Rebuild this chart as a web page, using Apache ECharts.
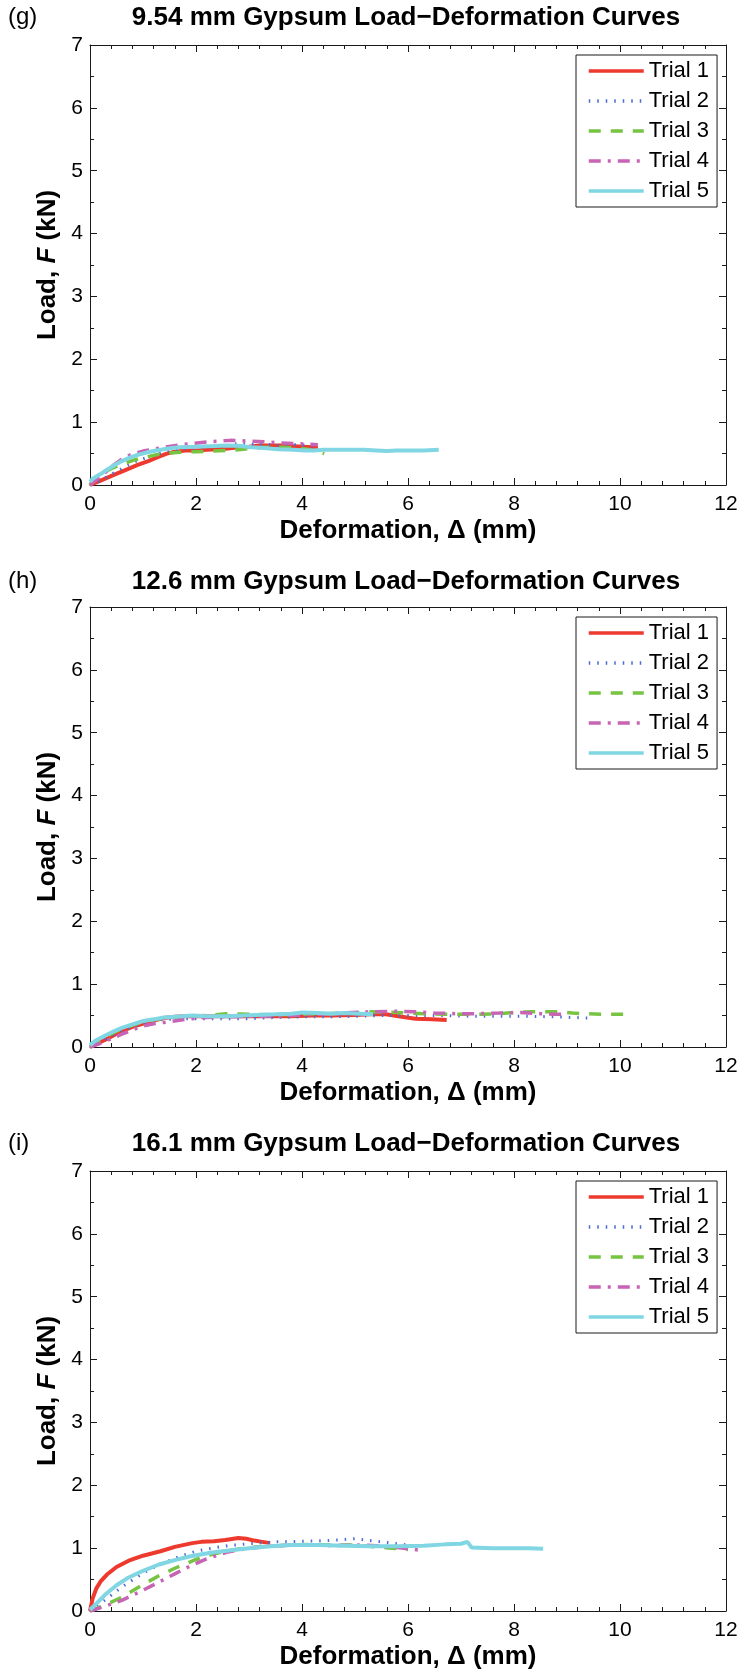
<!DOCTYPE html>
<html>
<head>
<meta charset="utf-8">
<script src="https://cdn.jsdelivr.net/npm/echarts@6/dist/echarts.min.js"></script>
<style>
html,body{margin:0;padding:0;background:#fff;}
#chart{width:741px;height:1673px;}
</style>
</head>
<body>
<div id="chart"></div>
<script>
// ---------- DATA ----------
const panelTags = ['(g)', '(h)', '(i)'];
const panelTitles = [
  '9.54 mm Gypsum Load\u2212Deformation Curves',
  '12.6 mm Gypsum Load\u2212Deformation Curves',
  '16.1 mm Gypsum Load\u2212Deformation Curves'
];
const trialNames = ['Trial 1', 'Trial 2', 'Trial 3', 'Trial 4', 'Trial 5'];
const xTicks = [0, 2, 4, 6, 8, 10, 12];
const yTicks = [0, 1, 2, 3, 4, 5, 6, 7];

// Panel (g) 9.54 mm  [deformation mm, load kN]
const g_t1 = [[0,0],[0.2,0.07],[0.45,0.16],[0.7,0.25],[0.9,0.32],[1.1,0.38],[1.3,0.45],[1.45,0.50],[1.6,0.53],[1.8,0.55],[2.0,0.55],[2.2,0.56],[2.4,0.57],[2.6,0.58],[2.8,0.60],[3.0,0.61],[3.2,0.63],[3.4,0.63],[3.6,0.63],[3.8,0.62],[4.0,0.61],[4.2,0.60],[4.3,0.59]];
const g_t2 = [[0,0],[0.1,0.03],[0.2,0.07],[0.4,0.17],[0.64,0.28],[0.85,0.37],[1.08,0.44],[1.3,0.50],[1.5,0.55],[1.7,0.57],[2.0,0.59],[2.33,0.61],[2.6,0.63],[2.84,0.67],[3.0,0.65],[3.3,0.65],[3.53,0.63],[3.8,0.64],[3.97,0.64],[4.2,0.62]];
const g_t3 = [[0,0],[0.05,0.08],[0.2,0.17],[0.4,0.26],[0.6,0.33],[0.8,0.39],[1.08,0.45],[1.3,0.49],[1.5,0.51],[1.7,0.52],[2.0,0.53],[2.33,0.54],[2.65,0.55],[2.9,0.57],[3.28,0.60],[3.6,0.60],[3.9,0.59],[4.1,0.57],[4.3,0.53],[4.42,0.50]];
const g_t4 = [[0,0],[0.1,0.07],[0.25,0.17],[0.45,0.32],[0.6,0.41],[0.76,0.48],[1.0,0.54],[1.2,0.57],[1.39,0.60],[1.7,0.64],[2.02,0.67],[2.3,0.69],[2.65,0.71],[2.95,0.70],[3.28,0.69],[3.6,0.67],[3.9,0.66],[4.1,0.65],[4.3,0.64]];
const g_t5 = [[0,0.05],[0.05,0.1],[0.19,0.17],[0.3,0.23],[0.45,0.31],[0.6,0.38],[0.76,0.44],[0.9,0.48],[1.08,0.52],[1.25,0.55],[1.39,0.57],[1.55,0.59],[1.7,0.60],[2.0,0.61],[2.33,0.62],[2.6,0.63],[2.84,0.62],[3.05,0.60],[3.28,0.59],[3.55,0.57],[3.84,0.56],[4.05,0.55],[4.22,0.55],[4.4,0.56],[4.6,0.56],[4.9,0.56],[5.16,0.56],[5.4,0.55],[5.6,0.54],[5.79,0.55],[6.0,0.55],[6.3,0.55],[6.58,0.56]];

// Panel (h) 12.6 mm
const h_t1 = [[0,0],[0.15,0.06],[0.3,0.12],[0.59,0.25],[0.8,0.32],[0.99,0.37],[1.2,0.42],[1.39,0.46],[1.6,0.48],[1.78,0.49],[2.2,0.49],[2.6,0.49],[2.97,0.49],[3.4,0.49],[3.8,0.49],[4.2,0.50],[4.55,0.50],[5.0,0.51],[5.3,0.52],[5.58,0.52],[5.82,0.49],[6.14,0.45],[6.45,0.44],[6.73,0.43]];
const h_t2 = [[0,0],[0.2,0.08],[0.4,0.17],[0.59,0.26],[0.99,0.38],[1.39,0.44],[1.8,0.45],[2.2,0.45],[2.6,0.45],[2.97,0.45],[3.5,0.47],[4.0,0.48],[4.55,0.48],[5.0,0.49],[5.5,0.50],[6.14,0.50],[6.6,0.50],[7.2,0.49],[7.72,0.49],[8.2,0.49],[8.75,0.48],[9.1,0.47],[9.46,0.46]];
const h_t3 = [[0,0],[0.1,0.06],[0.3,0.17],[0.6,0.29],[0.99,0.40],[1.39,0.46],[1.8,0.49],[2.2,0.50],[2.57,0.53],[3.0,0.52],[3.5,0.51],[3.9,0.52],[4.4,0.53],[4.9,0.54],[5.34,0.56],[5.8,0.55],[6.3,0.53],[6.93,0.52],[7.3,0.52],[7.72,0.53],[8.0,0.55],[8.35,0.56],[8.83,0.56],[9.1,0.54],[9.3,0.53],[9.7,0.52],[10.13,0.52]];
const h_t4 = [[0,0],[0.2,0.06],[0.4,0.13],[0.59,0.20],[0.8,0.27],[0.99,0.33],[1.2,0.37],[1.39,0.39],[1.8,0.44],[2.18,0.47],[2.6,0.48],[3.0,0.49],[3.4,0.49],[3.76,0.50],[4.2,0.52],[4.55,0.53],[4.95,0.55],[5.34,0.56],[5.74,0.57],[6.14,0.56],[6.5,0.54],[6.93,0.53],[7.3,0.53],[7.72,0.54],[8.12,0.55],[8.5,0.53],[8.75,0.52],[8.95,0.52]];
const h_t5 = [[0,0.03],[0.1,0.1],[0.28,0.18],[0.45,0.25],[0.59,0.30],[0.8,0.36],[0.99,0.41],[1.2,0.44],[1.39,0.47],[1.6,0.48],[1.94,0.50],[2.2,0.49],[2.57,0.49],[2.9,0.50],[3.13,0.51],[3.5,0.52],[3.8,0.53],[4.0,0.55],[4.3,0.54],[4.55,0.53],[4.8,0.54],[5.1,0.53],[5.34,0.52]];

// Panel (i) 16.1 mm
const i_t1 = [[0,0],[0.05,0.2],[0.12,0.36],[0.2,0.47],[0.32,0.58],[0.5,0.70],[0.73,0.80],[1.0,0.88],[1.33,0.95],[1.6,1.02],[1.93,1.08],[2.1,1.10],[2.34,1.11],[2.55,1.13],[2.8,1.16],[2.95,1.15],[3.1,1.12],[3.25,1.10],[3.4,1.08]];
const i_t2 = [[0,0],[0.2,0.12],[0.4,0.25],[0.6,0.38],[0.85,0.52],[1.1,0.65],[1.4,0.77],[1.7,0.87],[2.0,0.95],[2.3,1.00],[2.6,1.04],[3.0,1.07],[3.5,1.10],[4.0,1.11],[4.5,1.12],[5.0,1.15],[5.2,1.13],[5.5,1.10],[5.8,1.07],[6.0,1.05]];
const i_t3 = [[0,0],[0.3,0.1],[0.6,0.22],[1.0,0.42],[1.3,0.56],[1.6,0.68],[2.0,0.82],[2.3,0.90],[2.6,0.96],[3.0,1.01],[3.4,1.03],[3.8,1.05],[4.2,1.06],[4.6,1.05],[5.0,1.05],[5.4,1.02],[5.7,1.00],[6.0,0.98]];
const i_t4 = [[0,0],[0.3,0.08],[0.6,0.17],[1.0,0.33],[1.3,0.46],[1.6,0.59],[1.9,0.72],[2.2,0.83],[2.6,0.94],[3.0,1.0],[3.4,1.03],[3.8,1.05],[4.2,1.05],[4.6,1.04],[5.0,1.05],[5.4,1.04],[5.8,1.01],[6.2,0.97]];
const i_t5 = [[0,0.02],[0.1,0.1],[0.3,0.27],[0.5,0.41],[0.7,0.52],[1.0,0.64],[1.3,0.74],[1.6,0.81],[1.9,0.87],[2.3,0.93],[2.7,0.97],[3.0,1.00],[3.4,1.03],[3.8,1.05],[4.3,1.05],[4.8,1.04],[5.3,1.03],[5.8,1.03],[6.3,1.04],[6.7,1.06],[7.0,1.07],[7.12,1.10],[7.2,1.01],[7.6,1.00],[8.0,1.00],[8.3,1.00],[8.55,0.99]];

const panelData = [
  [g_t1, g_t2, g_t3, g_t4, g_t5],
  [h_t1, h_t2, h_t3, h_t4, h_t5],
  [i_t1, i_t2, i_t3, i_t4, i_t5]
];

// ---------- STYLE ----------
const FONT = '"Liberation Sans", Arial, Helvetica, sans-serif';
const AX = '#1a1a1a';
const trialStyles = [
  {color: '#ee3a2e', width: 4, type: 'solid'},
  {color: '#4a6cd4', width: 3, type: [1.5, 7]},
  {color: '#76c442', width: 3.5, type: [12, 10]},
  {color: '#c864b4', width: 3.5, type: [12, 7, 3, 7]},
  {color: '#80d6e3', width: 4, type: 'solid'}
];
const gridLeft = 90, gridWidth = 636, gridHeight = 440;
const gridTops = [45, 607, 1171];
const titleTops = [5, 569, 1131];

const grids = [], xAxes = [], yAxes = [], series = [], titles = [], legends = [];

panelData.forEach((trials, p) => {
  grids.push({left: gridLeft, top: gridTops[p], width: gridWidth, height: gridHeight});
  const xCommon = {
    gridIndex: p, type: 'value', min: xTicks[0], max: xTicks[xTicks.length - 1], interval: 2,
    axisLine: {show: true, onZero: false, lineStyle: {color: AX, width: 1}},
    axisTick: {show: true, inside: true, length: 7, lineStyle: {color: AX, width: 1}},
    minorTick: {show: true, splitNumber: 5, length: 4, lineStyle: {color: AX, width: 1}},
    splitLine: {show: false}
  };
  xAxes.push(Object.assign({}, xCommon, {
    position: 'bottom',
    axisLabel: {show: true, fontSize: 21, color: '#000', margin: 9, fontFamily: FONT},
    name: 'Deformation, \u0394 (mm)', nameLocation: 'middle', nameGap: 33,
    nameTextStyle: {fontSize: 26, fontWeight: 'bold', color: '#000', fontFamily: FONT}
  }));
  xAxes.push(Object.assign({}, xCommon, {position: 'top', axisLabel: {show: false}}));
  const yCommon = {
    gridIndex: p, type: 'value', min: yTicks[0], max: yTicks[yTicks.length - 1], interval: 1,
    axisLine: {show: true, onZero: false, lineStyle: {color: AX, width: 1}},
    axisTick: {show: true, inside: true, length: 7, lineStyle: {color: AX, width: 1}},
    minorTick: {show: true, splitNumber: 2, length: 4, lineStyle: {color: AX, width: 1}},
    splitLine: {show: false}
  };
  yAxes.push(Object.assign({}, yCommon, {
    position: 'left',
    axisLabel: {show: true, fontSize: 21, color: '#000', margin: 7, fontFamily: FONT},
    name: '{b|Load, }{i|F}{b| (kN)}', nameLocation: 'middle', nameGap: 29,
    nameTextStyle: {
      color: '#000', fontFamily: FONT,
      rich: {
        b: {fontSize: 26, fontWeight: 'bold', fontFamily: FONT, color: '#000'},
        i: {fontSize: 26, fontWeight: 'bold', fontStyle: 'italic', fontFamily: FONT, color: '#000'}
      }
    }
  }));
  yAxes.push(Object.assign({}, yCommon, {position: 'right', axisLabel: {show: false}}));

  trials.forEach((d, t) => {
    const st = trialStyles[t];
    series.push({
      type: 'line', name: trialNames[t], data: d,
      xAxisIndex: p * 2, yAxisIndex: p * 2,
      symbol: 'none', showSymbol: false, smooth: false,
      lineStyle: {color: st.color, width: st.width, type: st.type, cap: 'butt'},
      itemStyle: {color: st.color},
      z: 2 + t
    });
  });

  titles.push({
    text: panelTitles[p], left: gridLeft + gridWidth / 2 - 2, top: titleTops[p], textAlign: 'center', padding: 0,
    textStyle: {fontSize: 26, fontWeight: 'bold', color: '#000', fontFamily: FONT}
  });
  titles.push({
    text: panelTags[p], left: 8, top: titleTops[p], padding: 0,
    textStyle: {fontSize: 24, fontWeight: 'normal', color: '#000', fontFamily: FONT}
  });

  legends.push({
    data: trialNames, orient: 'vertical', left: 576, top: gridTops[p] + 10,
    itemWidth: 55, itemHeight: 14, itemGap: 8, padding: [5, 8, 5, 11],
    borderColor: AX, borderWidth: 1, backgroundColor: '#fff',
    selectedMode: false,
    itemStyle: {opacity: 0},
    lineStyle: {width: 3.5},
    textStyle: {fontSize: 22, color: '#000', fontFamily: FONT, lineHeight: 20}
  });
});

const chart = echarts.init(document.getElementById('chart'), null, {renderer: 'canvas'});
chart.setOption({
  animation: false,
  backgroundColor: '#fff',
  title: titles,
  legend: legends,
  grid: grids,
  xAxis: xAxes,
  yAxis: yAxes,
  series: series
});
</script>
</body>
</html>
